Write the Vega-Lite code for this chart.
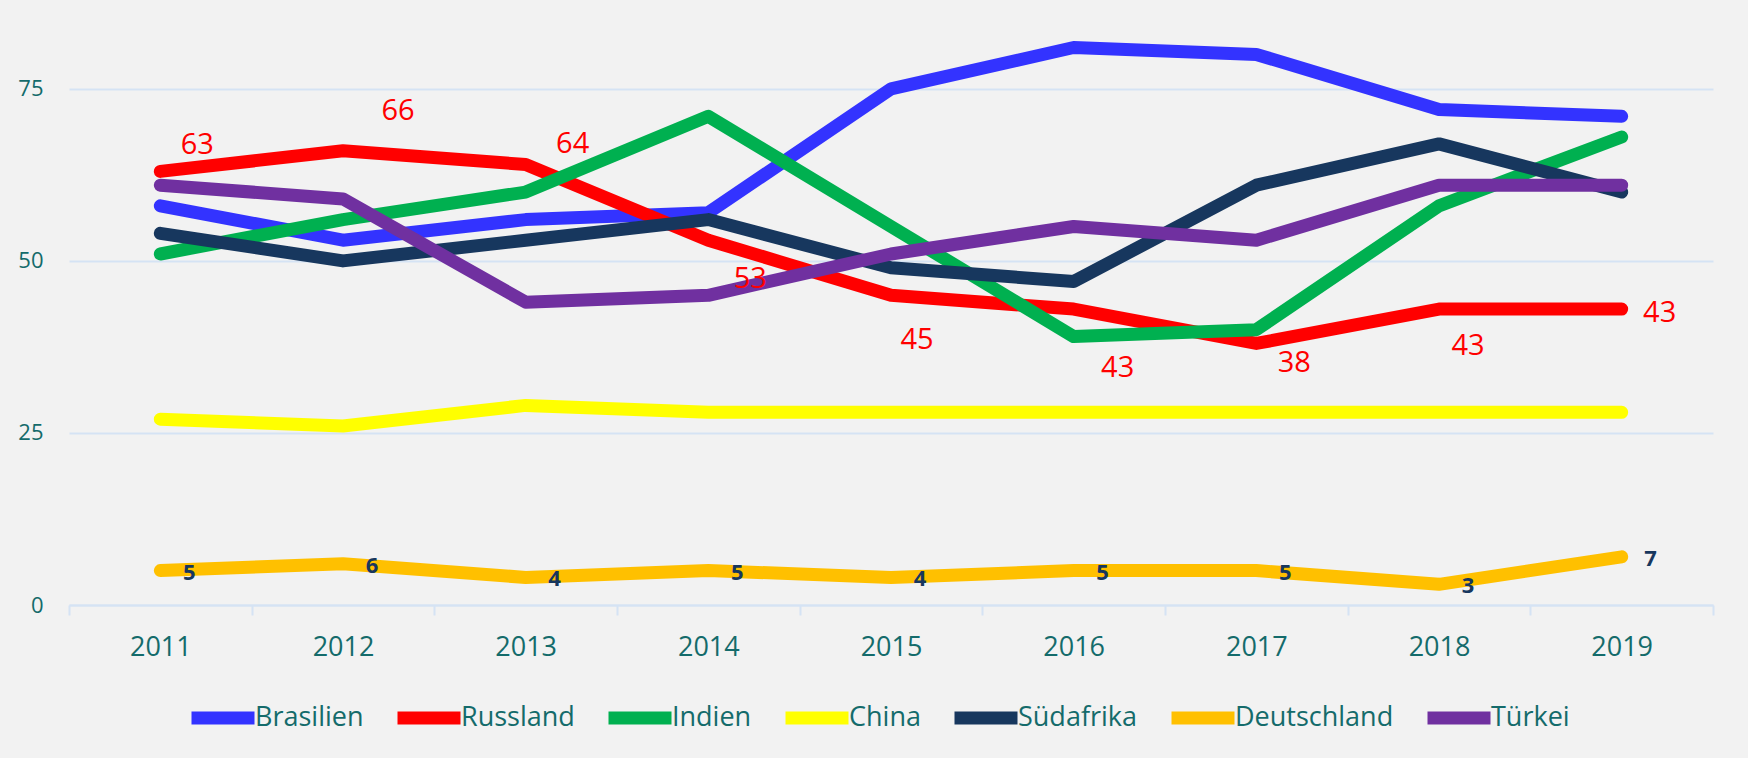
{
  "$schema": "https://vega.github.io/schema/vega-lite/v6.json",
  "autosize": {"type": "none"},
  "padding": {"left": 69, "top": 20, "right": 35, "bottom": 153},
  "width": 1644,
  "height": 585,
  "background": "#F2F2F2",
  "config": {"view": {"stroke": null}, "font": "Open Sans"},
  "data": {"values": [
    {"year": "2011", "country": "Brasilien", "value": 58},
    {"year": "2012", "country": "Brasilien", "value": 53},
    {"year": "2013", "country": "Brasilien", "value": 56},
    {"year": "2014", "country": "Brasilien", "value": 57},
    {"year": "2015", "country": "Brasilien", "value": 75},
    {"year": "2016", "country": "Brasilien", "value": 81},
    {"year": "2017", "country": "Brasilien", "value": 80},
    {"year": "2018", "country": "Brasilien", "value": 72},
    {"year": "2019", "country": "Brasilien", "value": 71},
    {"year": "2011", "country": "Russland", "value": 63},
    {"year": "2012", "country": "Russland", "value": 66},
    {"year": "2013", "country": "Russland", "value": 64},
    {"year": "2014", "country": "Russland", "value": 53},
    {"year": "2015", "country": "Russland", "value": 45},
    {"year": "2016", "country": "Russland", "value": 43},
    {"year": "2017", "country": "Russland", "value": 38},
    {"year": "2018", "country": "Russland", "value": 43},
    {"year": "2019", "country": "Russland", "value": 43},
    {"year": "2011", "country": "Indien", "value": 51},
    {"year": "2012", "country": "Indien", "value": 56},
    {"year": "2013", "country": "Indien", "value": 60},
    {"year": "2014", "country": "Indien", "value": 71},
    {"year": "2015", "country": "Indien", "value": 55},
    {"year": "2016", "country": "Indien", "value": 39},
    {"year": "2017", "country": "Indien", "value": 40},
    {"year": "2018", "country": "Indien", "value": 58},
    {"year": "2019", "country": "Indien", "value": 68},
    {"year": "2011", "country": "China", "value": 27},
    {"year": "2012", "country": "China", "value": 26},
    {"year": "2013", "country": "China", "value": 29},
    {"year": "2014", "country": "China", "value": 28},
    {"year": "2015", "country": "China", "value": 28},
    {"year": "2016", "country": "China", "value": 28},
    {"year": "2017", "country": "China", "value": 28},
    {"year": "2018", "country": "China", "value": 28},
    {"year": "2019", "country": "China", "value": 28},
    {"year": "2011", "country": "Südafrika", "value": 54},
    {"year": "2012", "country": "Südafrika", "value": 50},
    {"year": "2013", "country": "Südafrika", "value": 53},
    {"year": "2014", "country": "Südafrika", "value": 56},
    {"year": "2015", "country": "Südafrika", "value": 49},
    {"year": "2016", "country": "Südafrika", "value": 47},
    {"year": "2017", "country": "Südafrika", "value": 61},
    {"year": "2018", "country": "Südafrika", "value": 67},
    {"year": "2019", "country": "Südafrika", "value": 60},
    {"year": "2011", "country": "Deutschland", "value": 5},
    {"year": "2012", "country": "Deutschland", "value": 6},
    {"year": "2013", "country": "Deutschland", "value": 4},
    {"year": "2014", "country": "Deutschland", "value": 5},
    {"year": "2015", "country": "Deutschland", "value": 4},
    {"year": "2016", "country": "Deutschland", "value": 5},
    {"year": "2017", "country": "Deutschland", "value": 5},
    {"year": "2018", "country": "Deutschland", "value": 3},
    {"year": "2019", "country": "Deutschland", "value": 7},
    {"year": "2011", "country": "Türkei", "value": 61},
    {"year": "2012", "country": "Türkei", "value": 59},
    {"year": "2013", "country": "Türkei", "value": 44},
    {"year": "2014", "country": "Türkei", "value": 45},
    {"year": "2015", "country": "Türkei", "value": 51},
    {"year": "2016", "country": "Türkei", "value": 55},
    {"year": "2017", "country": "Türkei", "value": 53},
    {"year": "2018", "country": "Türkei", "value": 61},
    {"year": "2019", "country": "Türkei", "value": 61}
  ]},
  "encoding": {
    "x": {
      "field": "year", "type": "ordinal", "bandPosition": 0.5,
      "scale": {"type": "band", "paddingInner": 0, "paddingOuter": 0},
      "axis": {
        "title": null, "labelAngle": 0, "grid": false,
        "domainColor": "#D5E3F4", "domainWidth": 2,
        "tickColor": "#D5E3F4", "tickWidth": 2, "tickSize": 10, "tickBand": "extent",
        "labelFontSize": 27, "labelColor": "#146B6B", "labelPadding": 32, "labelBaseline": "middle"
      }
    },
    "y": {
      "field": "value", "type": "quantitative",
      "scale": {"domain": [0, 85], "nice": false},
      "axis": {
        "title": null, "values": [0, 25, 50, 75], "grid": true,
        "gridColor": "#D5E3F4", "gridWidth": 2, "domain": false, "ticks": false, "tickSize": 0,
        "labelFontSize": 22, "labelColor": "#146B6B", "labelPadding": 26
      }
    }
  },
  "layer": [
    {
      "mark": {"type": "line", "strokeWidth": 13, "strokeCap": "round", "strokeJoin": "round"},
      "encoding": {
        "color": {
          "field": "country", "type": "nominal",
          "scale": {
            "domain": ["Brasilien", "Russland", "Indien", "China", "Südafrika", "Deutschland", "Türkei"],
            "range": ["#3333FF", "#FF0000", "#00B050", "#FFFF00", "#17375E", "#FFC000", "#7030A0"]
          },
          "legend": {
            "orient": "none", "legendX": 116, "legendY": 660,
            "direction": "horizontal", "columns": 7, "title": null,
            "symbolType": "stroke", "symbolStrokeWidth": 13, "symbolSize": 3969,
            "labelFontSize": 27, "labelColor": "#146B6B", "labelOffset": -6,
            "columnPadding": 7, "labelLimit": 400
          }
        },
        "order": {"field": "year"}
      }
    },
    {
      "transform": [{"filter": "datum.country === 'Russland' && datum.year === '2011'"}],
      "mark": {"type": "text", "fontSize": 29, "color": "#FF0000", "align": "center", "baseline": "middle", "dx": 37, "dy": -26},
      "encoding": {"text": {"field": "value", "type": "quantitative"}}
    },
    {
      "transform": [{"filter": "datum.country === 'Russland' && datum.year === '2012'"}],
      "mark": {"type": "text", "fontSize": 29, "color": "#FF0000", "align": "center", "baseline": "middle", "dx": 55, "dy": -40},
      "encoding": {"text": {"field": "value", "type": "quantitative"}}
    },
    {
      "transform": [{"filter": "datum.country === 'Russland' && datum.year === '2013'"}],
      "mark": {"type": "text", "fontSize": 29, "color": "#FF0000", "align": "center", "baseline": "middle", "dx": 47, "dy": -21},
      "encoding": {"text": {"field": "value", "type": "quantitative"}}
    },
    {
      "transform": [{"filter": "datum.country === 'Russland' && datum.year === '2014'"}],
      "mark": {"type": "text", "fontSize": 29, "color": "#FF0000", "align": "center", "baseline": "middle", "dx": 42, "dy": 39},
      "encoding": {"text": {"field": "value", "type": "quantitative"}}
    },
    {
      "transform": [{"filter": "datum.country === 'Russland' && datum.year === '2015'"}],
      "mark": {"type": "text", "fontSize": 29, "color": "#FF0000", "align": "center", "baseline": "middle", "dx": 26, "dy": 45},
      "encoding": {"text": {"field": "value", "type": "quantitative"}}
    },
    {
      "transform": [{"filter": "datum.country === 'Russland' && datum.year === '2016'"}],
      "mark": {"type": "text", "fontSize": 29, "color": "#FF0000", "align": "center", "baseline": "middle", "dx": 44, "dy": 59},
      "encoding": {"text": {"field": "value", "type": "quantitative"}}
    },
    {
      "transform": [{"filter": "datum.country === 'Russland' && datum.year === '2017'"}],
      "mark": {"type": "text", "fontSize": 29, "color": "#FF0000", "align": "center", "baseline": "middle", "dx": 38, "dy": 20},
      "encoding": {"text": {"field": "value", "type": "quantitative"}}
    },
    {
      "transform": [{"filter": "datum.country === 'Russland' && datum.year === '2018'"}],
      "mark": {"type": "text", "fontSize": 29, "color": "#FF0000", "align": "center", "baseline": "middle", "dx": 29, "dy": 37},
      "encoding": {"text": {"field": "value", "type": "quantitative"}}
    },
    {
      "transform": [{"filter": "datum.country === 'Russland' && datum.year === '2019'"}],
      "mark": {"type": "text", "fontSize": 29, "color": "#FF0000", "align": "center", "baseline": "middle", "dx": 38, "dy": 4},
      "encoding": {"text": {"field": "value", "type": "quantitative"}}
    },
    {
      "transform": [{"filter": "datum.country === 'Deutschland'"}],
      "mark": {"type": "text", "fontSize": 22, "fontWeight": "bold", "color": "#17375E", "align": "center", "baseline": "middle", "dx": 29, "dy": 2},
      "encoding": {"text": {"field": "value", "type": "quantitative"}}
    }
  ]
}
